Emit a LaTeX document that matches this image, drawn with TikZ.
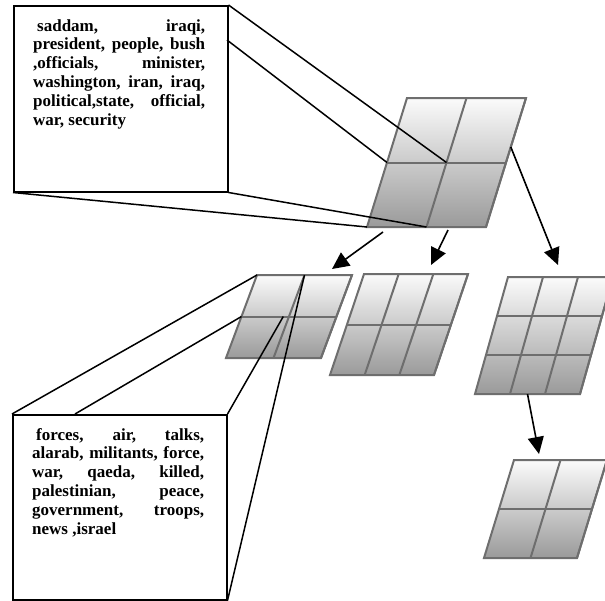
\documentclass[tikz,border=0pt]{standalone}
\usepackage{fontspec}
\setmainfont{Liberation Serif}
\usetikzlibrary{calc,arrows.meta}
\definecolor{gridline}{HTML}{6E6E6E}
\definecolor{gridtop}{HTML}{FBFBFB}
\definecolor{gridbot}{HTML}{9A9A9A}
\newcommand{\mkgrid}[8]{%
  \coordinate (#1-bl) at (#2,#3);
  \coordinate (#1-br) at (#2+#4,#3);
  \coordinate (#1-tl) at (#2+#6,#3-#5);
  \coordinate (#1-tr) at (#2+#4+#6,#3-#5);
  \coordinate (#1-ml) at ($(#1-bl)!.5!(#1-tl)$);
  \coordinate (#1-mr) at ($(#1-br)!.5!(#1-tr)$);
  \coordinate (#1-tm) at ($(#1-tl)!.5!(#1-tr)$);
  \coordinate (#1-bm) at ($(#1-bl)!.5!(#1-br)$);
  \coordinate (#1-c) at ($(#1-bl)!.5!(#1-tr)$);
  \shade[top color=gridtop,bottom color=gridbot] (#1-bl)--(#1-br)--(#1-tr)--(#1-tl)--cycle;
  \foreach \k in {1,...,#7}{\draw[gridln] ($(#1-bl)!{\k/#7}!(#1-br)$) -- ($(#1-tl)!{\k/#7}!(#1-tr)$);}
  \foreach \k in {1,...,#8}{\draw[gridln] ($(#1-bl)!{\k/#8}!(#1-tl)$) -- ($(#1-br)!{\k/#8}!(#1-tr)$);}
  \draw[gridln] (#1-bl)--(#1-br)--(#1-tr)--(#1-tl)--cycle;
}
\tikzset{
  gridln/.style={draw=gridline,line width=2pt,line join=miter},
  conn/.style={draw=black,line width=1.5pt},
  arr/.style={draw=black,line width=1.6pt,-{Triangle[length=17pt,width=16pt]}},
  boxnode/.style={draw=black,line width=1.5pt,fill=white,inner sep=0pt,anchor=north west},
  txt/.style={text width=172pt,inner sep=0pt,align=justify,anchor=base west,
    font=\fontsize{17}{18.9}\selectfont\bfseries},
}
\begin{document}
\begin{tikzpicture}[x=1pt,y=-1pt]
\clip (0,0) rectangle (605,600);
\fill[white] (0,0) rectangle (605,600);
% grids
\mkgrid{T}{367}{227}{119}{129}{40}{2}{2}
\mkgrid{A}{226}{358}{95}{83}{31}{2}{2}
\mkgrid{B}{330}{375}{104}{101}{34}{3}{2}
\mkgrid{C}{475}{394}{105}{117}{33}{3}{3}
\mkgrid{D}{484}{558}{93}{98}{30}{2}{2}
% boxes
\node[boxnode,minimum width=214pt,minimum height=186pt] (topbox) at (13,5) {};
\node[boxnode,minimum width=214pt,minimum height=185pt] (botbox) at (12,414) {};
\node[txt] (toptext) at (33,31) {\hspace*{4pt}saddam, iraqi,\linebreak president, people, bush\linebreak ,officials, minister,\linebreak washington, iran, iraq,\linebreak political,state, official,\linebreak war, security};
\node[txt] (bottext) at (32,440) {\hspace*{4pt}forces, air, talks,\linebreak alarab, militants, force,\linebreak war, qaeda, killed,\linebreak palestinian, peace,\linebreak government, troops,\linebreak news ,israel};
% connectors top box
\coordinate (tb-r) at (227,40);
\draw[conn] (topbox.north east) -- (T-c);
\draw[conn] (tb-r) -- (T-ml);
\draw[conn] (topbox.south west) -- (T-bl);
\draw[conn] (topbox.south east) -- (T-bm);
% connectors bottom box
\coordinate (bb-t) at (75,414);
\coordinate (A-in) at ($(A-ml)!.44!(A-mr)$);
\draw[conn] (botbox.north west) -- (A-tl);
\draw[conn] (bb-t) -- (A-ml);
\draw[conn] (botbox.north east) -- (A-in);
\draw[conn] (botbox.south east) -- (A-tm);
% arrows
\coordinate (a1s) at (383,232);
\coordinate (a1e) at (332,269);
\coordinate (a2s) at (448,230);
\coordinate (a2e) at (431,265);
\coordinate (a3s) at ($(T-br)!0.62!(T-tr)$);
\coordinate (a3e) at (558,265);
\coordinate (a4e) at (539,454);
\draw[arr] (a1s) -- (a1e);
\draw[arr] (a2s) -- (a2e);
\draw[arr] (a3s) -- (a3e);
\draw[arr] (C-bm) -- (a4e);
\end{tikzpicture}
\end{document}
